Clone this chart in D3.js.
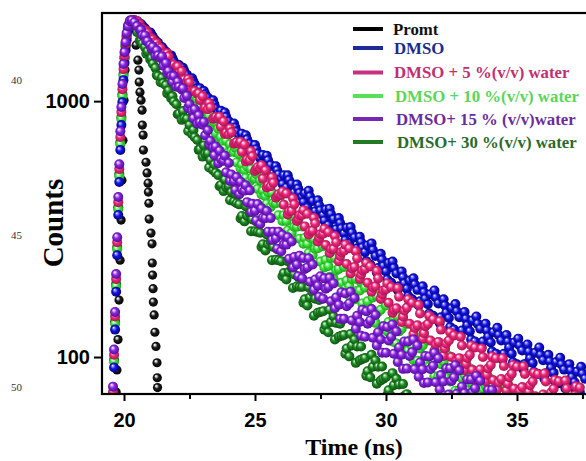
<!DOCTYPE html>
<html>
<head>
<meta charset="utf-8">
<script src="https://cdn.jsdelivr.net/npm/d3@7"></script>
<style>
  body { margin: 0; background: #fff; }
</style>
</head>
<body>
<svg id="decay" width="586" height="461"></svg>
<script>
// --- DATA ---
// main time base (ns): fine steps on the rise, 0.2 ns on the decay
const time = [19.58, 19.62, 19.66, 19.70, 19.74, 19.78, 19.82, 19.86, 19.90, 19.94, 19.98, 20.02, 20.06, 20.10, 20.15, 20.22, 20.30, 20.40, 20.50,
  20.6, 20.8, 21.0, 21.2, 21.4, 21.6, 21.8, 22.0, 22.2, 22.4, 22.6, 22.8, 23.0, 23.2, 23.4, 23.6, 23.8, 24.0, 24.2, 24.4,
  24.6, 24.8, 25.0, 25.2, 25.4, 25.6, 25.8, 26.0, 26.2, 26.4, 26.6, 26.8, 27.0, 27.2, 27.4, 27.6, 27.8, 28.0, 28.2, 28.4,
  28.6, 28.8, 29.0, 29.2, 29.4, 29.6, 29.8, 30.0, 30.2, 30.4, 30.6, 30.8, 31.0, 31.2, 31.4, 31.6, 31.8, 32.0, 32.2, 32.4,
  32.6, 32.8, 33.0, 33.2, 33.4, 33.6, 33.8, 34.0, 34.2, 34.4, 34.6, 34.8, 35.0, 35.2, 35.4, 35.6, 35.8, 36.0, 36.2, 36.4,
  36.6, 36.8, 37.0, 37.2, 37.4, 37.6];
// in-between channels of the decay
const timeMid = [20.7, 20.9, 21.1, 21.3, 21.5, 21.7, 21.9, 22.1, 22.3, 22.5, 22.7, 22.9, 23.1, 23.3, 23.5, 23.7, 23.9,
  24.1, 24.3, 24.5, 24.7, 24.9, 25.1, 25.3, 25.5, 25.7, 25.9, 26.1, 26.3, 26.5, 26.7, 26.9, 27.1, 27.3, 27.5, 27.7,
  27.9, 28.1, 28.3, 28.5, 28.7, 28.9, 29.1, 29.3, 29.5, 29.7, 29.9, 30.1, 30.3, 30.5, 30.7, 30.9, 31.1, 31.3, 31.5,
  31.7, 31.9, 32.1, 32.3, 32.5, 32.7, 32.9, 33.1, 33.3, 33.5, 33.7, 33.9, 34.1, 34.3, 34.5, 34.7, 34.9, 35.1, 35.3,
  35.5, 35.7, 35.9, 36.1, 36.3, 36.5, 36.7, 36.9, 37.1, 37.3, 37.5];
const timeQ = [20.65, 20.85, 21.05, 21.25, 21.45, 21.65, 21.85, 22.05, 22.25, 22.45, 22.65, 22.85, 23.05, 23.25, 23.45,
  23.65, 23.85, 24.05, 24.25, 24.45, 24.65, 24.85, 25.05, 25.25, 25.45, 25.65, 25.85, 26.05, 26.25, 26.45, 26.65,
  26.85, 27.05, 27.25, 27.45, 27.65, 27.85, 28.05, 28.25, 28.45, 28.65, 28.85, 29.05, 29.25, 29.45, 29.65, 29.85,
  30.05, 30.25, 30.45, 30.65, 30.85, 31.05, 31.25, 31.45, 31.65, 31.85, 32.05, 32.25, 32.45, 32.65, 32.85, 33.05,
  33.25, 33.45, 33.65, 33.85, 34.05, 34.25, 34.45, 34.65, 34.85, 35.05, 35.25, 35.45, 35.65, 35.85, 36.05, 36.25,
  36.45, 36.65, 36.85, 37.05, 37.25, 37.45];

// instrument response (own time base)
const promtTime = [19.70, 19.73, 19.77, 19.81, 19.85, 19.89, 19.92, 19.96, 20.00, 20.04, 20.08, 20.15, 20.23, 20.31,
  20.46, 20.53, 20.57, 20.58, 20.61, 20.65, 20.69, 20.70, 20.73, 20.74, 20.84, 20.88, 20.92, 20.93, 20.95, 20.96,
  21.03, 21.07, 21.08, 21.09, 21.11, 21.12, 21.15, 21.18, 21.22, 21.26, 21.27, 21.28];
const promtCounts = [73, 89, 117, 167, 239, 343, 491, 704, 1009, 1322, 1655, 1981, 2072, 1981,
  1655, 1446, 1322, 1187, 1084, 1009, 922, 806, 737, 644, 577, 524, 478, 441, 399, 346,
  305, 277, 233, 209, 185, 164, 146, 125, 110, 95, 83, 76];

const dmso = [65, 91, 128, 180, 250, 359, 483, 644, 806, 991, 1208, 1408, 1582, 1731, 1877, 1981, 2054, 2072, 2054,
  1981, 1925, 1856, 1728, 1614, 1561, 1509, 1383, 1289, 1269,
  1228, 1123, 1046, 1034, 1008, 900, 828, 834, 818, 731,
  675, 682, 674, 598, 550, 563, 557, 496, 460, 475,
  472, 422, 384, 407, 410, 358, 328, 346, 349, 304,
  278, 293, 295, 257, 230, 248, 253, 216, 195, 212,
  216, 185, 168, 183, 189, 161, 145, 162, 168, 142,
  128, 143, 150, 126, 115, 129, 135, 114, 103, 116,
  122, 103, 93.7, 106, 112, 94.7, 86, 97.2, 102, 86.7,
  79, 89.3, 93.8, 79.7, 73, 82.3];
const dmsoMid = [1971, 1866, 1785, 1690, 1597, 1480, 1430, 1384, 1313, 1202,
  1163, 1123, 1065, 962, 938, 917, 868, 777, 761, 746,
  709, 635, 624, 616, 587, 521, 517, 513, 492, 440,
  438, 436, 424, 371, 374, 377, 362, 316, 318, 320,
  306, 266, 268, 273, 262, 223, 227, 233, 223, 189,
  194, 199, 192, 165, 169, 176, 171, 143, 149, 155,
  151, 127, 133, 139, 135, 115, 120, 125, 122, 103,
  109, 114, 111, 94, 98.8, 104, 102, 86.4, 90.8, 95.6,
  93.6, 79.3, 83.5, 87.8, 86.1];
const dmsoQ = [2001, 1879, 1819, 1692, 1626, 1478, 1470, 1340, 1351, 1201,
  1193, 1088, 1095, 952, 973, 863, 902, 768, 789, 700,
  736, 629, 649, 570, 612, 513, 537, 474, 513, 432,
  455, 403, 446, 361, 391, 341, 380, 307, 334, 286,
  322, 260, 281, 237, 278, 214, 240, 201, 236, 183,
  205, 173, 203, 159, 179, 148, 182, 136, 159, 131,
  161, 121, 141, 117, 144, 109, 127, 105, 130, 97.8,
  115, 95.4, 118, 89.2, 105, 87.4, 109, 82, 96.2, 80.2,
  99.4, 75.3, 88.6, 73.7, 91.6];

const water5 = [73, 102, 144, 202, 281, 403, 543, 724, 906, 1114, 1334, 1499, 1670, 1811, 1946, 2035, 2072, 2072, 2054,
  2000, 1880, 1776, 1698, 1614, 1498, 1391, 1362, 1309, 1187,
  1097, 1069, 1045, 929, 853, 856, 834, 742, 681, 683,
  677, 588, 533, 547, 537, 465, 419, 430, 436, 373,
  340, 359, 363, 312, 283, 303, 308, 265, 237, 260,
  266, 225, 202, 221, 226, 189, 169, 184, 188, 155,
  137, 156, 163, 133, 118, 134.5, 140.5, 114.6, 101, 116,
  121.5, 99, 88.8, 102, 109, 89.4, 80.4, 93.1, 99, 82.1,
  74.1, 86.1, 91.8, 76.3, 69, 80.3, 85.8, 71.4, 64.5, 75.2,
  80.4, 66.9, 60.6, 70.8, 76, 63];
const water5Mid = [1921, 1850, 1741, 1635, 1527, 1496, 1388, 1288, 1213, 1183,
  1093, 1010, 942, 946, 867, 795, 753, 755, 692, 634,
  592, 609, 552, 498, 469, 480, 433, 394, 371, 395,
  358, 324, 310, 333, 302, 274, 264, 281, 257, 231,
  222, 243, 218, 195, 187, 203, 182, 163, 153, 172,
  152, 135, 130, 148, 132, 116, 112, 128, 113, 100,
  96.7, 111, 99.2, 89.1, 86.8, 100, 90.3, 81.1, 79.5, 92.3,
  83.3, 75.2, 73.8, 85.8, 77.6, 70.2, 69, 80.3, 72.6, 65.8,
  64.6, 75.4, 68.3, 62.2, 61.3];
const water5Q = [1935, 1882, 1758, 1684, 1527, 1539, 1389, 1367, 1214, 1218,
  1095, 1073, 933, 983, 860, 869, 744, 783, 686, 694,
  581, 638, 542, 562, 460, 504, 426, 443, 361, 417,
  347, 375, 301, 350, 292, 317, 255, 297, 248, 275,
  212, 259, 210, 233, 180, 217, 176, 194, 149, 186,
  144, 168, 123, 160, 124, 145, 106, 138, 108, 125,
  91.4, 120, 94, 111, 81.8, 108, 85.2, 100.5, 74.8, 99,
  78.6, 93.1, 69.1, 92.1, 73.1, 86.9, 64.7, 86.2, 68.4, 81.4,
  60.6, 80.9, 64.3, 76.8, 56.9];

const water10 = [69, 96, 135, 189, 264, 378, 509, 679, 851, 1046, 1253, 1472, 1640, 1779, 1911, 2000, 2054, 2054, 2017,
  1958, 1844, 1763, 1661, 1527, 1404, 1362, 1298, 1174, 1077,
  1046, 1015, 896, 814, 810, 780, 690, 630, 633, 620,
  537, 485, 498, 490, 426, 386, 399, 399, 340, 305,
  323, 324, 277, 250, 266, 271, 227, 202, 221, 225,
  189, 168, 182, 187, 154, 136, 153, 159, 129, 113,
  129, 135, 110, 96.7, 111, 116, 94.8, 84, 96, 101,
  83.2, 74.1, 85, 90.4, 74.5, 67, 77.2, 82, 67.6, 61,
  70.7, 75.5];
const water10Mid = [1923, 1808, 1692, 1592, 1518, 1395, 1283, 1223, 1166, 1071,
  973, 939, 907, 824, 749, 723, 700, 639, 576, 565,
  555, 502, 454, 447, 441, 400, 358, 358, 359, 323,
  290, 292, 293, 265, 236, 240, 244, 218, 195, 199,
  202, 181, 162, 165, 171, 150, 132, 137, 142, 126,
  111, 116, 122, 108, 95.7, 100, 105, 93.7, 83.5, 88,
  92.8, 82.6, 74.1, 78.8, 83.4, 74.9, 67.1, 71.5, 76, 68.4,
  62];
const water10Q = [1916, 1852, 1748, 1606, 1468, 1457, 1372, 1216, 1127, 1118,
  1052, 921, 848, 876, 827, 708, 654, 679, 658, 546,
  501, 543, 519, 432, 397, 439, 421, 340, 312, 355,
  342, 277, 255, 289, 286, 224, 206, 244, 237, 185,
  171, 202, 196, 151, 137, 173, 168, 126, 115, 144,
  142, 106, 97.1, 123, 122, 91.6, 84.1, 108, 107, 80.2,
  73.9, 94.9, 94.5, 71.8, 66.4, 85.4, 85.5, 64.8, 60.3, 78,
  78.5];

const water15 = [76.6, 107, 150, 211, 294, 422, 567, 763, 948, 1166, 1396, 1554, 1700, 1844, 1964, 2054, 2072, 2035, 1964,
  1901, 1806, 1655, 1505, 1475, 1409, 1252, 1138, 1110, 1049,
  917, 816, 809, 770, 658, 572, 585, 573, 487, 433,
  447, 448, 373, 331, 349, 349, 291, 259, 275, 283,
  230, 203, 224, 230, 190, 169, 188, 194, 160, 141,
  162, 170, 137, 120, 139, 146, 117, 104, 120, 126,
  102, 90.1, 104.5, 111, 89.6, 79.6, 92.4, 99, 80.2, 71.4,
  83.3, 88.7, 72.3, 64.5, 75.5, 80.8, 66];
const water15Mid = [1809, 1718, 1630, 1508, 1375, 1312, 1253, 1138, 1028, 972,
  929, 827, 735, 699, 665, 593, 527, 517, 505, 451,
  403, 397, 396, 350, 309, 309, 309, 275, 242, 246,
  249, 221, 197, 201, 207, 185, 165, 171, 179, 158,
  139, 145, 153, 135, 119, 125, 132, 116, 103, 109,
  115, 101, 89.7, 95.2, 101, 89.8, 79.7, 85, 90.3, 80.6,
  71.8, 76.6, 81.7, 72.9, 65.1, 69.5, 74.4];
const water15Q = [1899, 1714, 1603, 1579, 1495, 1288, 1190, 1192, 1122, 941,
  858, 881, 829, 677, 614, 640, 612, 488, 450, 484,
  469, 369, 342, 381, 372, 287, 265, 300, 294, 224,
  207, 244, 243, 183, 172, 203, 204, 155, 141, 177,
  180, 129, 121, 151, 154, 111, 104, 131, 134, 95.6,
  89.9, 115, 117, 83.7, 79.1, 100.5, 104, 74.7, 70.8, 90.3,
  92.9, 67.1, 63.6, 81.8, 84.5, 61.2, 57.6, 74.4];

const water30 = [70.1, 97.6, 138, 193, 269, 385, 519, 692, 866, 1065, 1276, 1472, 1640, 1779, 1925, 2017, 2054, 1981, 1861,
  1723, 1626, 1454, 1349, 1185, 1155, 1027, 972, 845, 853,
  742, 705, 607, 625, 537, 514, 445, 465, 405, 395,
  339, 365, 310, 306, 261, 283, 240, 237, 201, 223,
  189, 188, 159, 179, 149, 151, 125, 144, 120, 122,
  100.6, 117, 97.1, 99.1, 83.3, 97, 81, 83.5, 70.3, 82.3,
  69.2, 71.6];
const water30Mid = [1677, 1565, 1400, 1253, 1176, 1100, 996, 893, 857, 807,
  723, 648, 623, 589, 525, 470, 460, 441, 399, 356,
  356, 345, 308, 276, 276, 269, 239, 213, 215, 210,
  188, 168, 171, 169, 150, 133, 137, 136, 121, 108,
  111, 110, 98.2, 88, 91.6, 91.7, 82.3, 74.1, 77.6, 78.1,
  70.4];
const water30Q = [1724, 1532, 1472, 1264, 1233, 1072, 1044, 889, 914, 764,
  771, 645, 671, 550, 565, 465, 493, 410, 435, 348,
  388, 310, 339, 269, 301, 239, 264, 207, 237, 186,
  206, 163, 187, 145, 167, 128, 153, 117, 135, 103,
  123, 94.9, 110, 84.5, 102, 78.7, 91.8, 71, 86.5, 67,
  78.5];

const legendLabels = ["Promt", "DMSO", "DMSO + 5 %(v/v) water", "DMSO + 10 %(v/v) water",
  "DMSO+ 15 % (v/v)water", "DMSO+ 30 %(v/v) water"];
const xTicks = [20, 25, 30, 35];
const xMinorTicks = [22.5, 27.5, 32.5, 37.5];
const yTicks = [100, 1000];
const lineNumbers = ["40", "45", "50"];

// --- SETUP ---
const svg = d3.select("#decay");
const plot = { left: 102, top: 13, right: 600, bottom: 394 };

const x = d3.scaleLinear().domain([19.16, 38.17]).range([plot.left, plot.right]);
const y = d3.scaleLog().domain([71.7, 2210]).range([plot.bottom, plot.top]);

// zip a counts array onto its time base
const zip = (times, counts) => counts.map((c, i) => ({ t: times[i], c }));
const decay = (main, mid, q) => zip(time, main).concat(zip(timeMid, mid), zip(timeQ, q));

// colours: base / shade / highlight for the shiny balls, plus legend line + text
// listed in drawing order (last one ends up on top)
const series = [
  { key: "promt", pts: zip(promtTime, promtCounts), base: "#1c1c1c", dark: "#000000", light: "#d8d8d8", line: "#000000", text: "#111111" },
  { key: "w30", pts: decay(water30, water30Mid, water30Q), base: "#1f8a24", dark: "#0b4a0e", light: "#9fe0a0", line: "#237a25", text: "#2a6a2a" },
  { key: "w10", pts: decay(water10, water10Mid, water10Q), base: "#3fe63f", dark: "#1a9a1a", light: "#c8ffc8", line: "#55e055", text: "#5ad65a" },
  { key: "dmso", pts: decay(dmso, dmsoMid, dmsoQ), base: "#1515e6", dark: "#000070", light: "#9a9aff", line: "#1e2a9a", text: "#1e2a8e" },
  { key: "w5", pts: decay(water5, water5Mid, water5Q), base: "#f02a7c", dark: "#a0104c", light: "#ffc0dc", line: "#c8307e", text: "#c0306f" },
  { key: "w15", pts: decay(water15, water15Mid, water15Q), base: "#8a28e0", dark: "#48088e", light: "#e0b8ff", line: "#7428b4", text: "#6a2c9c" }
];
const legendOrder = ["promt", "dmso", "w5", "w10", "w15", "w30"];

const defs = svg.append("defs");
defs.append("clipPath").attr("id", "plot-clip")
  .append("rect")
  .attr("x", plot.left).attr("y", plot.top)
  .attr("width", plot.right - plot.left).attr("height", plot.bottom - plot.top);

series.forEach(s => {
  const g = defs.append("radialGradient")
    .attr("id", "ball-" + s.key)
    .attr("cx", "50%").attr("cy", "50%").attr("r", "55%")
    .attr("fx", "34%").attr("fy", "30%");
  g.append("stop").attr("offset", "0%").attr("stop-color", "#ffffff");
  g.append("stop").attr("offset", "15%").attr("stop-color", s.light);
  g.append("stop").attr("offset", "45%").attr("stop-color", s.base);
  g.append("stop").attr("offset", "100%").attr("stop-color", s.dark);
});

// --- POINTS ---
const dots = svg.append("g").attr("clip-path", "url(#plot-clip)");
series.forEach(s => {
  dots.append("g")
    .selectAll("circle")
    .data(s.pts.sort((a, b) => a.t - b.t))
    .join("circle")
    .attr("cx", d => x(d.t))
    .attr("cy", d => y(d.c))
    .attr("r", s.key === "promt" ? 4.6 : 5)
    .attr("fill", `url(#ball-${s.key})`);
});

// --- AXES ---
const tickFont = "'Liberation Sans', Arial, sans-serif";

const xAxis = svg.append("g")
  .attr("transform", `translate(0, ${plot.bottom})`)
  .call(d3.axisBottom(x).tickValues(xTicks).tickSize(7).tickPadding(12).tickSizeOuter(0));
svg.append("g")
  .attr("transform", `translate(0, ${plot.bottom})`)
  .call(d3.axisBottom(x).tickValues(xMinorTicks).tickSize(5).tickFormat("").tickSizeOuter(0))
  .select(".domain").remove();

const yAxis = svg.append("g")
  .attr("transform", `translate(${plot.left}, 0)`)
  .call(d3.axisLeft(y).tickValues(yTicks).tickFormat(d3.format("d")).tickSize(8).tickPadding(4).tickSizeOuter(0));

[xAxis, yAxis].forEach(a => {
  a.selectAll("text")
    .attr("fill", "#000")
    .style("font-family", tickFont)
    .style("font-weight", "bold")
    .style("font-size", "20px");
  a.select(".domain").remove();
});
svg.selectAll(".tick line").attr("stroke", "#000").attr("stroke-width", 2);

// frame (right side runs off the picture)
svg.append("rect")
  .attr("x", plot.left).attr("y", plot.top)
  .attr("width", plot.right - plot.left).attr("height", plot.bottom - plot.top)
  .attr("fill", "none").attr("stroke", "#000").attr("stroke-width", 2.2);

// --- TITLES ---
svg.append("text")
  .attr("x", 354).attr("y", 455)
  .attr("text-anchor", "middle")
  .style("font-family", "'Liberation Serif', 'Times New Roman', serif")
  .style("font-weight", "bold")
  .style("font-size", "24px")
  .text("Time (ns)");

svg.append("text")
  .attr("transform", "translate(63, 223) rotate(-90)")
  .attr("text-anchor", "middle")
  .style("font-family", "'Liberation Serif', 'Times New Roman', serif")
  .style("font-weight", "bold")
  .style("font-size", "29px")
  .text("Counts");

// manuscript line numbers in the margin
svg.append("g")
  .selectAll("text")
  .data(lineNumbers)
  .join("text")
  .attr("x", 11)
  .attr("y", (d, i) => [84, 239, 391][i])
  .style("font-family", "'Liberation Serif', 'Times New Roman', serif")
  .style("font-size", "11px")
  .attr("fill", "#333")
  .text(d => d);

// --- LEGEND ---
const legendY = [29, 48, 72.5, 96, 119, 142];
const legendTextX = [393, 394, 394, 395, 396, 397];
const legend = svg.append("g");
legendOrder.forEach((key, i) => {
  const s = series.find(d => d.key === key);
  legend.append("line")
    .attr("x1", 353).attr("x2", 383)
    .attr("y1", legendY[i]).attr("y2", legendY[i])
    .attr("stroke", s.line).attr("stroke-width", 4);
  legend.append("text")
    .attr("x", legendTextX[i]).attr("y", legendY[i])
    .attr("dy", "0.35em")
    .attr("fill", s.text)
    .style("font-family", "'Liberation Serif', 'Times New Roman', serif")
    .style("font-weight", "bold")
    .style("font-size", "16.8px")
    .text(legendLabels[i]);
});
</script>
</body>
</html>
